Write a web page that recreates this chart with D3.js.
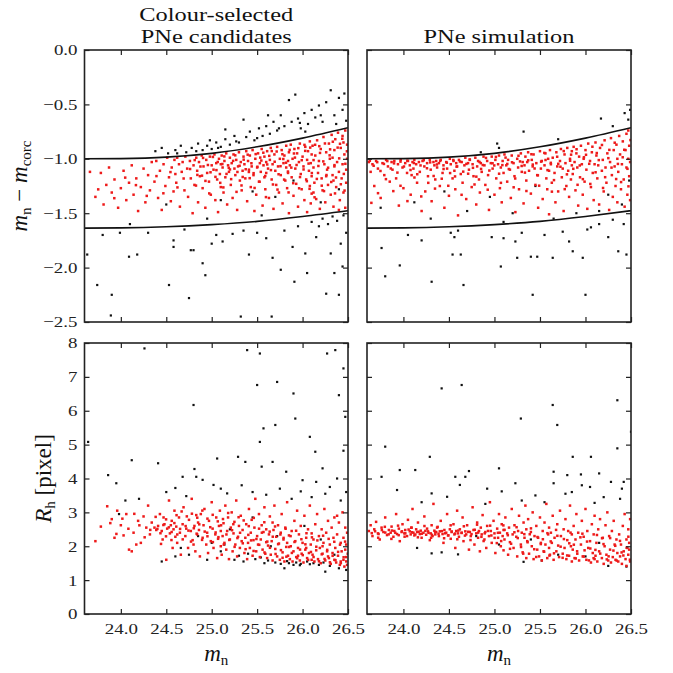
<!DOCTYPE html>
<html lang="en">
<head>
<meta charset="UTF-8">
<title>PNe candidates vs simulation</title>
<script src="https://cdnjs.cloudflare.com/ajax/libs/d3/7.8.5/d3.min.js"></script>
<style>
  body { margin: 0; background: #fff; }
  svg { display: block; font-family: 'Liberation Serif', serif; }
  .tick text { font-family: 'Liberation Serif', serif; font-size: 15.5px; fill: #222; }
  .title { font-size: 19.5px; fill: #111; }
  .math { font-family: 'Liberation Serif', serif; font-size: 23px; fill: #111; }
</style>
</head>
<body>
<svg id="chart" width="673" height="673"></svg>
<script>
// colour-cut curves (m_n vs m_n - m_corc)
const curveMn = [23.6, 24.0, 24.5, 25.0, 25.5, 26.0, 26.5];
const curveUpper = [-1.0, -0.998, -0.985, -0.95, -0.89, -0.81, -0.715];
const curveLower = [-1.637, -1.635, -1.625, -1.605, -1.575, -1.53, -1.477];

const xTicks = [24.0, 24.5, 25.0, 25.5, 26.0, 26.5];
const dmTicks = [0.0, -0.5, -1.0, -1.5, -2.0, -2.5];
const rhTicks = [0, 1, 2, 3, 4, 5, 6, 7, 8];

const panelTitles = [["Colour-selected", "PNe candidates"], ["PNe simulation"]];

// candidates: m_n vs colour (selected = red)
const candColourRed = [
  [23.66,-1.12],[23.72,-1.35],[23.78,-1.13],[23.81,-1.42],[23.84,-1.24],
  [23.87,-1.08],[23.90,-1.31],[23.93,-1.19],[23.97,-1.45],[24.00,-1.27],[24.03,-1.11],[24.06,-1.38],[24.09,-1.22],
  [24.12,-1.06],[24.14,-1.33],[24.17,-1.18],[24.19,-1.48],[24.22,-1.26],[24.25,-1.09],[24.27,-1.40],[24.30,-1.15],[24.32,-1.29],[24.34,-1.03],
  [24.37,-1.21],[24.39,-1.02],[24.41,-1.36],[24.43,-1.11],[24.45,-1.47],[24.47,-1.05],[24.49,-1.25],[24.51,-0.99],[24.53,-1.17],[24.55,-1.39],[24.56,-1.08],[24.58,-1.30],[24.59,-1.01],[24.60,-1.14],
  [24.61,-1.22],[24.62,-0.99],[24.64,-1.05],[24.65,-1.44],[24.67,-1.12],[24.68,-1.03],[24.70,-1.29],[24.71,-0.98],[24.73,-1.09],[24.74,-1.35],[24.76,-1.02],[24.77,-1.18],[24.79,-1.50],[24.80,-1.06],[24.81,-1.24],[24.83,-0.99],[24.84,-1.11],[24.85,-1.40],
  [24.86,-1.03],[24.87,-1.16],[24.89,-0.97],[24.90,-1.27],[24.91,-1.07],[24.93,-1.45],[24.94,-1.01],[24.95,-1.13],[24.97,-1.21],[24.98,-0.98],[24.99,-1.33],[25.00,-1.06],[25.02,-1.10],[25.03,-0.96],[25.04,-1.38],[25.05,-1.04],[25.06,-1.19],[25.07,-1.49],[25.08,-1.00],[25.09,-1.14],[25.10,-1.26],[25.10,-1.05],
  [25.11,-0.97],[25.12,-1.08],[25.13,-1.31],[25.14,-1.02],[25.15,-1.17],[25.16,-0.95],[25.17,-1.42],[25.18,-1.06],[25.19,-1.12],[25.20,-0.99],[25.21,-1.24],[25.22,-1.04],[25.23,-1.36],[25.24,-0.96],[25.25,-1.09],[25.26,-1.15],[25.27,-1.01],[25.28,-1.47],[25.29,-1.07],[25.30,-0.94],[25.31,-1.20],[25.32,-1.03],[25.33,-1.29],[25.34,-1.11],[25.35,-0.98],
  [25.36,-1.05],[25.37,-1.18],[25.38,-0.93],[25.39,-1.39],[25.40,-1.02],[25.41,-1.10],[25.42,-0.97],[25.43,-1.26],[25.44,-1.07],[25.45,-0.92],[25.46,-1.15],[25.47,-1.48],[25.48,-1.00],[25.49,-1.33],[25.50,-1.08],[25.51,-0.95],[25.52,-1.21],[25.53,-1.04],[25.54,-1.12],[25.55,-0.91],[25.56,-1.43],[25.57,-1.06],[25.58,-1.17],[25.58,-0.98],[25.59,-1.28],[25.60,-1.03],[25.60,-1.13],
  [25.61,-0.93],[25.62,-1.09],[25.63,-1.36],[25.64,-1.01],[25.65,-0.90],[25.66,-1.19],[25.67,-1.05],[25.68,-1.46],[25.69,-0.96],[25.70,-1.11],[25.71,-1.24],[25.72,-0.89],[25.73,-1.07],[25.74,-1.31],[25.75,-1.00],[25.76,-1.15],[25.77,-0.92],[25.78,-1.41],[25.79,-1.04],[25.80,-0.97],[25.81,-1.20],[25.82,-1.08],[25.82,-0.88],[25.83,-1.27],[25.84,-1.02],[25.84,-1.13],[25.85,-0.94],[25.85,-1.50],
  [25.86,-1.06],[25.87,-0.87],[25.88,-1.17],[25.89,-1.00],[25.90,-1.34],[25.91,-0.91],[25.92,-1.09],[25.93,-1.23],[25.94,-0.95],[25.95,-1.44],[25.96,-1.03],[25.97,-0.86],[25.98,-1.14],[25.99,-1.28],[26.00,-0.98],[26.01,-1.07],[26.02,-1.38],[26.03,-0.89],[26.04,-1.19],[26.05,-1.01],[26.05,-1.49],[26.06,-0.93],[26.07,-1.11],[26.08,-1.25],[26.08,-0.84],[26.09,-1.04],[26.10,-1.32],[26.10,-0.96],[26.10,-1.16],[26.09,-1.41],
  [26.11,-0.88],[26.12,-1.08],[26.13,-1.22],[26.14,-0.97],[26.15,-1.37],[26.16,-0.83],[26.17,-1.13],[26.18,-1.02],[26.19,-1.46],[26.20,-0.91],[26.21,-1.18],[26.22,-1.29],[26.23,-0.80],[26.24,-1.05],[26.25,-1.40],[26.26,-0.94],[26.27,-1.10],[26.28,-1.24],[26.29,-0.86],[26.30,-1.00],[26.31,-1.33],[26.32,-0.78],[26.33,-1.15],[26.34,-1.44],[26.35,-0.92],[26.35,-1.07],[26.34,-1.20],[26.33,-0.99],[26.12,-1.31],[26.26,-1.16],
  [26.36,-0.82],[26.37,-1.26],[26.38,-1.03],[26.39,-0.76],[26.40,-1.12],[26.41,-1.38],[26.42,-0.90],[26.43,-1.18],[26.44,-0.79],[26.44,-1.05],[26.45,-1.31],[26.46,-0.96],[26.47,-1.45],[26.47,-0.74],[26.48,-1.10],[26.48,-1.22],[26.49,-0.87],[26.49,-1.00],[26.40,-1.47],[26.45,-0.85],
  [24.813,-1.012],[24.842,-1.148],[24.876,-1.071],[24.905,-0.992],[24.931,-1.203],[24.958,-1.057],[24.987,-1.124],[25.013,-0.983],[25.041,-1.166],[25.066,-1.029],[25.094,-1.221],[25.117,-1.048],[25.139,-0.978],[25.163,-1.139],[25.188,-1.083],[25.214,-1.187],[25.236,-1.019],[25.259,-0.968],[25.283,-1.121],[25.307,-1.064],[25.328,-1.245],[25.352,-1.008],[25.374,-1.096],[25.396,-0.962],[25.418,-1.178],[25.437,-1.041],[25.461,-1.132],[25.484,-0.957],[25.503,-1.073],[25.527,-1.211],[25.546,-1.016],[25.568,-0.944],[25.589,-1.158],[25.611,-1.052],[25.633,-0.973],[25.652,-1.104],[25.674,-1.236],[25.693,-1.027],[25.715,-0.933],[25.736,-1.142],[25.757,-1.068],[25.778,-0.958],[25.797,-1.191],[25.818,-1.036],[25.839,-1.117],[25.858,-0.918],[25.876,-1.081],[25.897,-1.224],[25.916,-0.989],[25.934,-1.057],[25.953,-0.902],[25.972,-1.168],[25.991,-1.013],[26.011,-1.098],[26.029,-0.927],[26.047,-1.206],[26.066,-1.044],[26.084,-0.897],[26.102,-1.131],[26.121,-1.012],[26.138,-0.871],[26.157,-1.185],[26.174,-1.066],[26.192,-0.946],[26.211,-1.247],[26.228,-1.024],[26.246,-0.859],[26.263,-1.149],[26.281,-1.082],[26.298,-0.968],[26.316,-1.213],[26.333,-0.843],[26.351,-1.058],[26.368,-1.172],[26.386,-0.897],[26.403,-0.996],[26.421,-1.234],[26.437,-0.816],[26.454,-1.139],[26.471,-1.046],[26.488,-0.931],[26.462,-1.292],[26.412,-0.862],[26.357,-1.318],[26.303,-0.913],[26.236,-1.297],[26.184,-0.884],[26.132,-1.354],[26.077,-1.276],[26.021,-0.872],[25.962,-1.271],[25.905,-0.951],[25.846,-1.309],[25.788,-1.002],[25.724,-1.283],[25.661,-0.929],[25.597,-1.352],[25.534,-0.989],[25.472,-1.268],[25.409,-1.121],[25.341,-1.167],[25.273,-1.304],[25.201,-1.098],[25.128,-1.263],[25.052,-1.104],[24.973,-1.318],[24.893,-1.155],[24.827,-1.246],[24.762,-1.094],[24.691,-1.181],[24.623,-1.263],[24.546,-1.122],[24.468,-1.317],[24.392,-1.159],[24.285,-1.341],[24.166,-1.242],[24.048,-1.173],[23.928,-1.362],[23.751,-1.281]
];
const candColourBlack = [
  [24.38,-0.93],[24.45,-0.90],[24.52,-0.95],[24.60,-0.92],[24.66,-0.88],[24.72,-0.94],[24.78,-0.90],[24.85,-0.86],[24.90,-0.92],[24.95,-0.88],[25.00,-0.91],[25.05,-0.85],[25.10,-0.89],[25.15,-0.82],[25.20,-0.87],[25.25,-0.79],[25.30,-0.85],[25.35,-0.64],[25.38,-0.80],[25.42,-0.75],[25.47,-0.83],[25.52,-0.72],[25.56,-0.79],[25.60,-0.70],[25.64,-0.77],[25.68,-0.66],[25.72,-0.74],[25.76,-0.60],[25.80,-0.70],[25.85,-0.46],[25.88,-0.66],[25.92,-0.41],[25.95,-0.63],[25.98,-0.72],[26.02,-0.58],[26.06,-0.68],[26.10,-0.55],[26.14,-0.62],[26.18,-0.51],[26.22,-0.66],[26.26,-0.48],[26.31,-0.37],[26.35,-0.60],[26.40,-0.44],[26.44,-0.55],[26.48,-0.65],[26.46,-0.40],[25.62,-0.60],[25.15,-0.73],[24.98,-0.83],
  [24.62,-0.95],[24.83,-0.93],[25.07,-0.90],[25.27,-0.84],[25.50,-0.81],[25.74,-0.72],[25.97,-0.67],[26.20,-0.60],[26.37,-0.68],[26.03,-0.75],
  [23.63,-1.88],[23.74,-2.16],[23.90,-2.25],[23.89,-2.44],[24.09,-1.90],[24.18,-1.88],[23.99,-1.68],[24.58,-1.75],[24.58,-1.81],[24.53,-2.16],[24.77,-1.84],[24.80,-1.84],[24.75,-2.28],[24.90,-1.96],[24.93,-2.07],[25.00,-1.78],[25.12,-1.76],[25.32,-2.45],[25.41,-1.88],[25.23,-1.69],[25.67,-1.91],[25.76,-2.02],[25.89,-1.81],[25.91,-2.13],[26.05,-2.05],[26.03,-1.87],[26.26,-2.24],[26.31,-1.87],[26.35,-2.05],[26.42,-1.78],[26.44,-1.99],[25.66,-2.45],[25.50,-1.68],[25.60,-1.73],[25.80,-1.66],[25.95,-1.62],[26.10,-1.58],[26.18,-1.62],[26.22,-1.55],[26.28,-1.60],[26.33,-1.53],[26.38,-1.57],[26.45,-1.52],[26.48,-1.68],[26.15,-1.72],[25.35,-1.66],[24.30,-1.68],[24.70,-1.65],[23.80,-1.70],[26.40,-2.25],[25.05,-1.70],
  [24.50,-1.42],[25.10,-1.38],[25.45,-1.30],[25.70,-1.35],[25.90,-1.20],[26.20,-1.40],[26.40,-1.28],[24.95,-1.55],[24.10,-1.60],[25.55,-1.52]
];

// simulation: m_n vs colour
const simColourRed = [
  [23.62,-1.03],[23.64,-1.12],[23.66,-1.05],[23.68,-1.25],[23.70,-1.02],[23.72,-1.09],[23.75,-1.36],[23.77,-1.04],[23.79,-1.15],[23.81,-1.01],[23.83,-1.07],[23.85,-1.21],
  [23.87,-1.03],[23.88,-1.10],[23.90,-1.02],[23.92,-1.18],[23.94,-1.05],[23.95,-1.43],[23.97,-1.01],[23.99,-1.08],[24.00,-1.27],[24.02,-1.04],[24.04,-1.13],[24.05,-1.02],[24.07,-1.06],[24.08,-1.33],[24.09,-1.15],[24.10,-1.03],
  [24.11,-1.09],[24.12,-1.01],[24.14,-1.05],[24.15,-1.22],[24.17,-1.03],[24.18,-1.12],[24.20,-1.48],[24.21,-1.02],[24.23,-1.07],[24.24,-1.30],[24.26,-1.04],[24.27,-1.16],[24.29,-1.01],[24.30,-1.10],[24.31,-1.39],[24.33,-1.03],[24.34,-1.06],[24.35,-1.19],
  [24.36,-1.02],[24.37,-1.08],[24.39,-1.04],[24.40,-1.25],[24.41,-1.01],[24.43,-1.13],[24.44,-1.06],[24.45,-1.45],[24.47,-1.03],[24.48,-1.09],[24.50,-1.34],[24.51,-1.00],[24.52,-1.05],[24.54,-1.18],[24.55,-1.02],[24.56,-1.11],[24.57,-1.28],[24.58,-1.04],[24.59,-1.07],[24.60,-1.52],
  [24.61,-1.01],[24.63,-1.14],[24.64,-1.03],[24.65,-1.22],[24.67,-1.06],[24.68,-0.99],[24.69,-1.37],[24.71,-1.04],[24.72,-1.10],[24.73,-1.01],[24.75,-1.26],[24.76,-1.05],[24.77,-1.16],[24.79,-0.99],[24.80,-1.42],[24.81,-1.07],[24.82,-1.02],[24.83,-1.19],[24.84,-1.31],[24.85,-1.04],
  [24.86,-1.12],[24.88,-0.98],[24.89,-1.06],[24.90,-1.24],[24.92,-1.02],[24.93,-1.15],[24.94,-1.47],[24.96,-1.04],[24.97,-0.98],[24.98,-1.09],[25.00,-1.33],[25.01,-1.01],[25.02,-1.18],[25.04,-1.05],[25.05,-0.97],[25.06,-1.27],[25.07,-1.08],[25.08,-1.40],[25.09,-1.02],[25.10,-1.13],
  [25.11,-0.96],[25.13,-1.06],[25.14,-1.21],[25.15,-1.01],[25.17,-1.10],[25.18,-1.36],[25.19,-0.97],[25.21,-1.04],[25.22,-1.16],[25.23,-1.49],[25.25,-1.00],[25.26,-1.08],[25.27,-1.28],[25.29,-0.95],[25.30,-1.12],[25.31,-1.03],[25.32,-1.41],[25.33,-1.06],[25.34,-0.98],[25.35,-1.20],
  [25.36,-1.03],[25.37,-0.94],[25.38,-1.11],[25.40,-1.32],[25.41,-1.01],[25.42,-1.07],[25.43,-0.96],[25.45,-1.24],[25.46,-1.04],[25.47,-1.15],[25.48,-1.45],[25.50,-0.93],[25.51,-1.09],[25.52,-1.02],[25.53,-1.37],[25.55,-1.06],[25.56,-0.95],[25.57,-1.18],[25.58,-1.28],[25.59,-1.00],[25.60,-1.11],[25.60,-1.51],
  [25.61,-0.92],[25.62,-1.05],[25.63,-1.22],[25.64,-0.99],[25.66,-1.13],[25.67,-1.40],[25.68,-0.94],[25.69,-1.07],[25.70,-1.30],[25.72,-1.02],[25.73,-0.91],[25.74,-1.17],[25.75,-1.09],[25.76,-1.48],[25.77,-0.96],[25.78,-1.04],[25.79,-1.25],[25.80,-0.90],[25.81,-1.11],[25.82,-1.35],[25.83,-1.00],[25.84,-1.19],[25.85,-0.93],[25.85,-1.06],
  [25.86,-1.14],[25.87,-0.89],[25.88,-1.03],[25.89,-1.29],[25.90,-0.95],[25.91,-1.08],[25.92,-1.43],[25.93,-0.98],[25.94,-1.17],[25.95,-0.88],[25.96,-1.05],[25.97,-1.33],[25.98,-1.00],[25.99,-1.21],[26.00,-0.92],[26.01,-1.10],[26.02,-1.46],[26.03,-0.86],[26.05,-1.02],[26.06,-1.26],[26.07,-0.94],[26.08,-1.13],[26.09,-1.38],[26.10,-1.05],
  [26.11,-0.85],[26.12,-0.97],[26.13,-1.18],[26.14,-1.06],[26.15,-1.42],[26.16,-0.90],[26.18,-1.11],[26.19,-1.01],[26.20,-1.30],[26.21,-0.83],[26.22,-1.08],[26.23,-1.22],[26.24,-0.95],[26.26,-1.47],[26.27,-1.03],[26.28,-0.81],[26.29,-1.15],[26.30,-1.35],[26.31,-0.92],[26.32,-1.07],[26.33,-1.25],[26.34,-0.87],[26.35,-1.00],[26.35,-1.40],
  [26.36,-1.12],[26.37,-0.79],[26.38,-0.96],[26.39,-1.28],[26.40,-1.05],[26.41,-0.84],[26.42,-1.19],[26.43,-1.44],[26.44,-0.92],[26.45,-1.08],[26.45,-0.77],[26.46,-1.33],[26.47,-1.00],[26.48,-1.16],[26.48,-0.88],[26.49,-1.38],[26.49,-1.03],[26.47,-0.74],
  [23.631,-1.018],[23.673,-1.064],[23.712,-1.031],[23.748,-1.112],[23.786,-1.047],[23.823,-1.021],[23.861,-1.089],[23.897,-1.042],[23.934,-1.127],[23.968,-1.026],[24.006,-1.071],[24.043,-1.018],[24.078,-1.103],[24.115,-1.039],[24.152,-1.142],[24.188,-1.061],[24.223,-1.013],[24.259,-1.087],[24.294,-1.033],[24.332,-1.158],[24.368,-1.052],[24.404,-1.019],[24.441,-1.094],[24.477,-1.036],[24.513,-1.131],[24.548,-1.011],[24.584,-1.072],[24.621,-1.025],[24.657,-1.118],[24.692,-1.047],[24.728,-1.006],[24.764,-1.083],[24.801,-1.164],[24.836,-1.029],[24.872,-1.057],[24.907,-0.992],[24.944,-1.108],[24.979,-1.041],[25.016,-0.983],[25.051,-1.137],[25.087,-1.058],[25.122,-0.989],[25.158,-1.094],[25.193,-1.032],[25.228,-1.181],[25.264,-0.972],[25.299,-1.066],[25.335,-1.127],[25.371,-1.014],[25.406,-0.958],[25.441,-1.089],[25.477,-1.152],[25.513,-1.026],[25.548,-0.946],[25.583,-1.104],[25.619,-1.037],[25.654,-1.196],[25.689,-0.981],[25.725,-1.073],[25.761,-0.929],[25.796,-1.143],[25.831,-1.018],[25.866,-1.092],[25.902,-0.912],[25.937,-1.061],[25.971,-1.187],[26.006,-0.963],[26.041,-1.046],[26.076,-0.889],[26.111,-1.124],[26.146,-1.012],[26.181,-0.873],[26.216,-1.169],[26.251,-0.994],[26.286,-1.081],[26.321,-0.852],[26.356,-1.047],[26.391,-1.214],[26.426,-0.917],[26.461,-1.092],[26.494,-0.828],[26.472,-1.253],[26.409,-0.986],[26.337,-1.186],[26.262,-0.918],[26.193,-1.268],[26.124,-0.947],[26.053,-1.231],[25.983,-0.986],[25.913,-1.239],[25.842,-0.962],[25.772,-1.279],[25.701,-1.046],[25.631,-1.302],[25.561,-1.011],[25.491,-1.247],[25.421,-1.053],[25.351,-1.296],[25.281,-1.024],[25.211,-1.262],[25.141,-1.047],[25.071,-1.221],[24.998,-1.061],[24.926,-1.284],[24.853,-1.093],[24.781,-1.236],[24.711,-1.137],[24.639,-1.331],[24.567,-1.162],[24.493,-1.248],[24.421,-1.183],[24.347,-1.274],[24.273,-1.221],[24.196,-1.346],[24.121,-1.172],[24.044,-1.389],[23.968,-1.248],[23.889,-1.297],[23.808,-1.187],[23.721,-1.316],[23.648,-1.405]
];
const simColourBlack = [
  [23.76,-1.82],[23.80,-2.08],[23.96,-1.98],[24.20,-1.75],[24.31,-2.13],[24.52,-1.68],[24.54,-1.88],[24.63,-1.88],[24.66,-2.16],[24.97,-1.72],[25.07,-1.99],[25.23,-1.76],[25.25,-1.91],[25.40,-1.90],[25.42,-2.25],[25.47,-1.90],[25.64,-1.91],[25.82,-1.76],[25.86,-1.85],[25.97,-1.91],[26.00,-2.25],[26.02,-1.65],[26.06,-1.63],[26.25,-1.72],[26.36,-1.85],[24.56,-1.72],[24.60,-1.66],[25.30,-1.68],[25.10,-1.73],[24.05,-1.70],[26.15,-1.60],[26.30,-1.56],[26.42,-1.60],[25.75,-1.67],[25.55,-1.70],[26.45,-1.88],
  [25.03,-0.86],[25.32,-0.75],[26.17,-0.63],[26.43,-0.58],[26.47,-0.64],[26.49,-0.55],[25.05,-0.90],[24.85,-0.94],[25.70,-0.82],[26.30,-0.70],
  [23.75,-1.45],[24.12,-1.40],[24.30,-1.55],[24.70,-1.48],[24.95,-1.35],[25.20,-1.50],[25.45,-1.25],[25.65,-1.55],[25.90,-1.50],[26.15,-1.48],[26.40,-1.42],[25.10,-1.58],[24.45,-1.30],[26.25,-1.33],[26.48,-1.20]
];

// candidates: m_n vs half-light radius
const candSizeRed = [
  [23.72,2.15],[23.78,2.58],[23.85,3.18],[23.90,2.80],[23.93,2.25],[23.96,3.05],[24.00,2.62],[24.03,2.32],[24.06,2.95],[24.09,1.90],
  [24.12,1.85],[24.14,2.40],[24.17,2.05],[24.19,2.75],[24.22,2.10],[24.25,2.88],[24.28,2.55],[24.30,3.20],[24.32,2.35],[24.34,2.70],
  [24.37,2.55],[24.39,2.48],[24.41,2.60],[24.43,2.95],[24.45,2.45],[24.46,2.20],[24.48,2.65],[24.50,1.60],[24.51,2.52],[24.53,3.35],[24.54,2.38],[24.56,2.75],[24.57,1.95],[24.58,2.50],[24.59,3.05],[24.60,2.28],[24.55,2.62],[24.47,2.85],
  [24.61,2.58],[24.62,2.10],[24.64,2.85],[24.65,2.40],[24.66,1.75],[24.68,2.65],[24.69,3.15],[24.71,2.30],[24.72,2.52],[24.74,1.95],[24.75,2.78],[24.77,2.45],[24.78,3.40],[24.79,2.18],[24.81,2.60],[24.82,1.85],[24.83,2.92],[24.84,2.35],[24.85,2.70],[24.80,2.05],
  [24.86,2.48],[24.87,1.70],[24.88,2.95],[24.90,2.25],[24.91,2.62],[24.92,3.10],[24.94,2.05],[24.95,2.40],[24.96,1.80],[24.97,2.75],[24.99,2.15],[25.00,3.30],[25.01,2.52],[25.02,1.95],[25.04,2.35],[25.05,2.85],[25.06,1.65],[25.07,2.22],[25.08,2.60],[25.09,3.05],[25.10,2.00],[25.10,2.45],
  [25.11,1.75],[25.12,2.30],[25.13,2.68],[25.14,2.10],[25.15,3.20],[25.16,1.90],[25.17,2.45],[25.18,2.85],[25.19,1.62],[25.20,2.20],[25.21,2.55],[25.22,3.00],[25.23,1.85],[25.24,2.38],[25.25,2.72],[25.26,2.05],[25.27,3.35],[25.28,1.70],[25.29,2.28],[25.30,2.60],[25.31,1.95],[25.32,2.90],[25.33,2.15],[25.34,2.48],
  [25.36,1.80],[25.37,2.25],[25.38,2.65],[25.39,1.62],[25.40,2.10],[25.41,3.10],[25.42,1.95],[25.43,2.40],[25.44,2.78],[25.45,1.72],[25.46,2.18],[25.47,2.55],[25.48,3.40],[25.49,1.85],[25.50,2.30],[25.51,2.05],[25.52,2.95],[25.53,1.68],[25.54,2.20],[25.55,2.62],[25.56,1.90],[25.57,2.42],[25.58,3.15],[25.59,1.78],[25.60,2.12],[25.60,2.50],
  [25.61,1.65],[25.62,2.02],[25.63,2.35],[25.64,2.88],[25.65,1.75],[25.66,2.15],[25.67,1.58],[25.68,2.48],[25.69,3.20],[25.70,1.92],[25.71,2.28],[25.72,1.70],[25.73,2.62],[25.74,2.08],[25.75,1.60],[25.76,2.40],[25.77,2.95],[25.78,1.82],[25.79,2.20],[25.80,1.55],[25.81,2.55],[25.82,1.98],[25.83,3.30],[25.84,1.72],[25.85,2.32],[25.83,2.10],[25.78,1.66],[25.67,2.70],
  [25.86,1.62],[25.87,2.00],[25.88,2.45],[25.89,1.55],[25.90,1.85],[25.91,2.75],[25.92,2.15],[25.93,1.68],[25.94,3.05],[25.95,1.95],[25.96,2.35],[25.97,1.58],[25.98,2.60],[25.99,1.78],[26.00,2.10],[26.01,1.52],[26.02,2.90],[26.03,1.90],[26.04,2.25],[26.05,1.65],[26.06,2.50],[26.07,1.80],[26.08,3.20],[26.09,2.05],[26.10,1.60],[26.10,2.38],[25.95,1.72],[26.04,1.95],
  [26.11,1.75],[26.12,2.20],[26.13,1.55],[26.14,2.65],[26.15,1.88],[26.16,2.95],[26.17,1.62],[26.18,2.30],[26.19,1.95],[26.20,1.50],[26.21,2.50],[26.22,1.78],[26.23,2.10],[26.24,3.10],[26.25,1.58],[26.26,2.40],[26.27,1.85],[26.28,2.75],[26.29,1.65],[26.30,2.05],[26.31,1.48],[26.32,2.55],[26.33,1.80],[26.34,2.25],[26.35,1.60],[26.35,2.85],[26.22,2.00],[26.28,1.70],
  [26.36,1.95],[26.37,1.52],[26.38,2.35],[26.39,1.72],[26.40,2.70],[26.41,1.45],[26.42,2.10],[26.43,1.85],[26.44,3.00],[26.45,1.60],[26.45,2.25],[26.46,1.40],[26.47,1.90],[26.47,2.55],[26.48,1.68],[26.48,2.05],[26.49,1.45],[26.49,2.40],[26.42,1.55],[26.38,2.90],
  [24.402,2.512],[24.436,2.384],[24.468,2.627],[24.497,2.293],[24.528,2.558],[24.559,2.421],[24.589,2.684],[24.621,2.347],[24.652,2.512],[24.681,2.203],[24.713,2.596],[24.744,2.462],[24.772,2.138],[24.803,2.531],[24.834,2.372],[24.863,2.647],[24.894,2.188],[24.923,2.433],[24.953,2.294],[24.984,2.562],[25.013,2.122],[25.043,2.407],[25.074,2.269],[25.103,2.618],[25.133,2.051],[25.162,2.348],[25.193,2.186],[25.224,2.473],[25.252,1.982],[25.283,2.241],[25.312,2.398],[25.342,2.087],[25.373,1.913],[25.403,2.336],[25.433,2.173],[25.461,1.861],[25.492,2.214],[25.523,2.042],[25.552,2.401],[25.581,1.817],[25.612,2.138],[25.641,1.954],[25.672,2.282],[25.703,1.772],[25.731,2.061],[25.762,1.886],[25.791,2.247],[25.822,1.692],[25.851,1.978],[25.882,1.803],[25.911,2.126],[25.941,1.647],[25.972,1.902],[26.002,1.738],[26.031,2.057],[26.061,1.598],[26.092,1.832],[26.121,1.682],[26.151,1.986],[26.181,1.556],[26.211,1.762],[26.242,1.624],[26.271,1.893],[26.301,1.527],[26.331,1.718],[26.362,1.589],[26.391,1.834],[26.421,1.502],[26.452,1.676],[26.481,1.552],[26.497,1.781],[26.468,2.137],[26.412,2.046],[26.349,2.132],[26.287,2.218],[26.226,2.311],[26.163,2.172],[26.103,2.263],[26.043,2.384],[25.987,2.207],[25.929,2.458],[25.868,2.299],[25.813,2.516],[25.756,2.347],[25.697,2.584],[25.638,2.431],[25.579,2.708],[25.521,2.519],[25.463,2.837],[25.408,2.594],[25.352,2.762],[25.296,2.857],[25.238,2.651],[25.181,2.982],[25.124,2.803],[25.067,2.734],[25.011,2.928],[24.953,2.815],[24.897,3.053],[24.841,2.843],[24.782,2.961],[24.726,2.882],[24.669,3.027],[24.613,2.917],[24.557,2.183],[24.498,2.794],[24.442,2.069],[24.383,2.867],[24.324,2.483],[24.262,2.264],[24.204,2.618],[24.148,2.957],[24.083,2.517],[24.017,2.814],[23.951,2.364],[23.884,2.683]
];
const candSizeBlack = [
  [24.26,7.84],[25.39,7.79],[25.53,7.69],[26.36,7.79],[26.27,7.69],[26.45,7.25],[25.50,6.76],[25.72,6.85],[24.80,6.17],[25.90,6.51],[25.92,5.77],[26.40,6.46],[26.47,5.82],[23.64,5.08],[25.57,5.48],[25.53,5.08],[25.70,5.58],[26.08,5.23],[26.14,4.79],[26.45,4.82],
  [24.12,4.54],[24.41,4.45],[25.06,4.59],[25.29,4.64],[25.37,4.49],[25.55,4.35],[25.67,4.49],[25.82,4.20],[26.22,4.30],[23.86,4.10],[23.95,3.86],[24.81,4.28],[24.83,4.05],[24.90,3.96],[25.02,3.81],[25.17,3.56],[25.33,3.80],[25.75,3.70],[26.00,3.95],[26.15,3.90],[26.30,3.75],[26.38,4.00],[26.48,3.60],
  [24.50,3.60],[24.60,3.72],[24.68,4.05],[24.72,3.48],[25.10,3.70],[25.45,3.60],[25.60,3.52],[25.88,3.40],[25.98,3.62],[26.10,3.45],[26.25,3.55],[26.42,3.35],[24.05,3.35],[24.20,3.40],[23.98,2.95],
  [24.45,1.55],[24.60,1.70],[24.75,1.75],[24.95,1.60],[25.10,1.85],[25.25,1.60],[25.35,1.55],[25.48,1.62],[25.58,1.50],[25.62,1.58],[25.70,1.52],[25.85,1.50],[25.90,1.45],[25.93,1.52],[25.98,1.48],[26.05,1.55],[26.12,1.50],[26.18,1.45],[26.30,1.42],[26.40,1.35],[26.48,1.30],[25.40,1.78],[25.00,2.10],[24.85,2.30],[25.20,2.50],[25.65,2.00],[26.20,2.20],[25.80,1.35],[26.25,1.25],
  [25.76,1.48],[25.83,1.56],[25.97,1.44],[26.08,1.47],[26.23,1.52],[25.54,1.67],[25.30,1.72],[24.66,1.95],[25.14,2.05],[25.72,2.30],[26.35,1.75],[26.02,2.60],[25.45,2.85]
];

// simulation: m_n vs half-light radius
const simSizeRed = [
  [23.62,2.45],[23.64,2.62],[23.66,2.30],[23.68,2.50],[23.70,2.72],[23.72,2.38],[23.74,2.20],[23.76,2.55],[23.78,2.42],[23.80,2.85],[23.82,2.33],[23.84,2.48],
  [23.86,2.40],[23.87,2.58],[23.89,2.28],[23.90,2.45],[23.92,2.95],[23.93,2.36],[23.95,2.52],[23.96,2.15],[23.98,2.42],[23.99,2.65],[24.01,2.38],[24.02,2.48],[24.04,2.30],[24.05,2.78],[24.07,2.44],[24.08,2.35],[24.09,2.55],[24.10,3.10],
  [24.11,2.40],[24.12,2.32],[24.14,2.50],[24.15,2.42],[24.16,2.70],[24.18,2.36],[24.19,2.46],[24.20,2.25],[24.22,2.40],[24.23,2.88],[24.25,2.34],[24.26,2.52],[24.27,2.44],[24.29,2.18],[24.30,2.38],[24.31,2.62],[24.32,2.30],[24.33,3.25],[24.34,2.46],[24.35,2.35],
  [24.36,2.42],[24.37,2.55],[24.39,2.30],[24.40,2.44],[24.41,2.75],[24.43,2.36],[24.44,2.10],[24.45,2.48],[24.47,2.40],[24.48,2.95],[24.49,2.32],[24.51,2.50],[24.52,2.22],[24.53,2.42],[24.55,2.65],[24.56,2.35],[24.57,1.95],[24.58,2.45],[24.59,3.05],[24.60,2.38],
  [24.61,2.28],[24.62,2.50],[24.64,2.40],[24.65,2.85],[24.66,2.15],[24.68,2.44],[24.69,2.35],[24.70,2.62],[24.72,1.90],[24.73,2.42],[24.74,2.30],[24.76,3.15],[24.77,2.48],[24.78,2.05],[24.80,2.38],[24.81,2.70],[24.82,2.25],[24.83,2.45],[24.84,1.85],[24.85,2.55],
  [24.86,2.35],[24.87,2.92],[24.89,2.20],[24.90,2.42],[24.91,1.95],[24.92,2.60],[24.94,2.30],[24.95,3.30],[24.96,2.45],[24.97,2.10],[24.99,2.75],[25.00,2.38],[25.01,1.80],[25.03,2.52],[25.04,2.25],[25.05,2.95],[25.06,2.40],[25.07,2.00],[25.08,2.65],[25.09,2.30],[25.10,1.88],[25.10,2.48],
  [25.11,2.20],[25.12,2.85],[25.14,2.38],[25.15,1.75],[25.16,2.55],[25.17,2.12],[25.19,3.10],[25.20,2.35],[25.21,1.95],[25.22,2.62],[25.24,2.28],[25.25,1.70],[25.26,2.45],[25.27,2.90],[25.29,2.05],[25.30,2.40],[25.31,1.82],[25.32,2.70],[25.33,2.25],[25.34,3.20],[25.35,1.65],[25.35,2.50],
  [25.36,2.15],[25.37,2.80],[25.38,1.78],[25.40,2.42],[25.41,2.00],[25.42,3.00],[25.43,1.62],[25.44,2.30],[25.46,2.60],[25.47,1.90],[25.48,2.25],[25.49,1.70],[25.50,2.85],[25.51,2.10],[25.52,1.58],[25.53,2.45],[25.54,1.85],[25.55,2.70],[25.56,2.05],[25.57,3.25],[25.58,1.65],[25.59,2.35],[25.60,1.95],[25.60,2.55],
  [25.61,1.75],[25.62,2.40],[25.63,2.10],[25.64,2.90],[25.65,1.60],[25.66,2.25],[25.68,1.85],[25.69,2.65],[25.70,2.02],[25.71,1.68],[25.72,3.05],[25.73,2.30],[25.75,1.78],[25.76,2.50],[25.77,1.95],[25.78,2.80],[25.79,1.62],[25.80,2.18],[25.81,2.45],[25.82,1.72],[25.83,3.20],[25.84,2.00],[25.85,1.55],[25.85,2.35],
  [25.86,1.90],[25.87,2.60],[25.88,1.65],[25.89,2.20],[25.90,2.95],[25.91,1.78],[25.92,2.40],[25.93,1.58],[25.95,2.05],[25.96,2.75],[25.97,1.70],[25.98,2.28],[25.99,1.88],[26.00,3.10],[26.01,1.60],[26.02,2.45],[26.03,1.95],[26.05,2.15],[26.06,1.52],[26.07,2.65],[26.08,1.80],[26.09,2.35],[26.10,1.62],[26.10,2.90],
  [26.11,1.72],[26.12,2.10],[26.13,1.55],[26.14,2.50],[26.15,1.85],[26.16,2.80],[26.18,1.65],[26.19,2.25],[26.20,1.48],[26.21,2.00],[26.22,2.62],[26.23,1.75],[26.24,3.00],[26.25,1.58],[26.26,2.30],[26.27,1.90],[26.28,1.52],[26.29,2.45],[26.30,1.68],[26.31,2.75],[26.32,2.05],[26.33,1.60],[26.34,2.20],[26.35,1.80],
  [26.36,1.55],[26.37,2.35],[26.38,1.70],[26.39,2.05],[26.40,1.48],[26.41,2.60],[26.42,1.85],[26.43,2.95],[26.44,1.62],[26.45,2.20],[26.45,1.42],[26.46,1.95],[26.47,2.50],[26.47,1.75],[26.48,2.10],[26.49,1.55],[26.49,2.80],[26.48,1.90],
  [23.652,2.387],[23.689,2.442],[23.727,2.361],[23.763,2.478],[23.801,2.405],[23.838,2.352],[23.874,2.463],[23.911,2.398],[23.948,2.327],[23.984,2.441],[24.021,2.382],[24.057,2.493],[24.094,2.413],[24.131,2.347],[24.167,2.428],[24.203,2.371],[24.241,2.454],[24.276,2.396],[24.313,2.338],[24.349,2.418],[24.386,2.369],[24.422,2.447],[24.458,2.382],[24.494,2.321],[24.531,2.436],[24.567,2.375],[24.603,2.462],[24.639,2.392],[24.676,2.314],[24.712,2.427],[24.748,2.358],[24.784,2.486],[24.821,2.402],[24.857,2.278],[24.893,2.381],[24.929,2.452],[24.966,2.318],[25.002,2.247],[25.038,2.397],[25.074,2.153],[25.111,2.483],[25.147,2.326],[25.183,2.074],[25.219,2.412],[25.256,2.241],[25.292,1.978],[25.328,2.357],[25.364,2.118],[25.401,2.528],[25.437,1.912],[25.473,2.272],[25.509,2.064],[25.546,1.838],[25.582,2.386],[25.618,2.143],[25.654,1.791],[25.691,2.308],[25.727,1.987],[25.763,2.212],[25.799,1.728],[25.836,2.402],[25.872,2.046],[25.908,1.852],[25.944,2.263],[25.981,1.697],[26.017,2.138],[26.053,1.934],[26.089,1.648],[26.126,2.332],[26.162,1.783],[26.198,2.064],[26.234,1.612],[26.271,2.241],[26.307,1.872],[26.343,1.576],[26.379,2.158],[26.416,1.728],[26.452,1.957],[26.488,1.603],[26.471,2.282],[26.397,1.818],[26.327,2.013],[26.254,1.702],[26.182,2.236],[26.109,1.893],[26.038,1.582],[25.966,2.371],[25.893,1.641],[25.822,2.087],[25.749,1.658],[25.677,2.483],[25.604,1.724],[25.532,2.207],[25.459,1.683],[25.388,2.354],[25.316,1.782],[25.243,2.562],[25.171,1.924],[25.098,2.616],[25.026,2.093],[24.953,2.608],[24.881,2.154],[24.809,2.637],[24.737,2.183],[24.664,2.589],[24.592,2.206],[24.519,2.618],[24.447,2.236],[24.376,2.572],[24.304,2.251],[24.231,2.597],[24.159,2.264],[24.086,2.548],[24.013,2.282],[23.941,2.608],[23.868,2.217],[23.796,2.574],[23.723,2.252]
];
const simSizeBlack = [
  [24.42,6.66],[24.64,6.76],[25.64,6.17],[25.69,5.58],[25.29,5.77],[26.35,6.31],[26.50,5.38],[26.35,4.89],[23.80,4.94],[24.29,4.64],[23.96,4.25],[24.13,4.25],[25.05,4.30],[25.86,4.64],[26.06,4.64],[25.65,4.20],[25.80,4.10],[26.15,4.15],[25.95,4.12],[23.76,4.05],[24.57,4.05],[24.62,3.81],[24.68,4.05],[24.72,4.22],
  [25.23,3.86],[25.65,3.86],[25.96,3.80],[26.05,3.75],[26.28,3.90],[26.42,3.90],[26.40,3.70],[23.93,3.66],[24.31,3.56],[24.48,3.46],[24.92,3.70],[25.08,3.62],[25.45,3.50],[25.78,3.55],[25.85,3.60],[26.20,3.45],[26.38,3.40],[24.20,3.30],[24.90,3.25],[25.30,3.35],[25.55,3.30],[26.10,3.28],
  [24.31,1.79],[24.42,1.82],[24.60,1.76],[25.32,1.54],[25.52,1.58],[26.25,1.42],[26.45,1.40],[24.15,1.95],[25.05,2.05],[25.70,1.75],[26.00,1.70],[26.15,2.10],[24.80,2.30],[25.40,2.20]
];

const svg = d3.select("#chart");
const cols = [[84.5, 348], [367, 631]];
const rows = [[50, 322], [343, 614]];
const xDomain = [23.6, 26.5];
const red = "#ee1a1a";

const panels = [
  {col: 0, row: 0, yDomain: [-2.5, 0], yTicks: dmTicks, red: candColourRed, black: candColourBlack, curves: true},
  {col: 1, row: 0, yDomain: [-2.5, 0], yTicks: dmTicks, red: simColourRed, black: simColourBlack, curves: true},
  {col: 0, row: 1, yDomain: [0, 8], yTicks: rhTicks, red: candSizeRed, black: candSizeBlack, curves: false},
  {col: 1, row: 1, yDomain: [0, 8], yTicks: rhTicks, red: simSizeRed, black: simSizeBlack, curves: false}
];

panels.forEach((p, i) => {
  const [x0, x1] = cols[p.col];
  const [y0, y1] = rows[p.row];
  const x = d3.scaleLinear().domain(xDomain).range([x0, x1]);
  const y = d3.scaleLinear().domain(p.yDomain).range([y1, y0]);
  const fmt = p.row === 0 ? d3.format(".1f") : d3.format("d");

  svg.append("clipPath").attr("id", "clip" + i)
    .append("rect").attr("x", x0).attr("y", y0).attr("width", x1 - x0).attr("height", y1 - y0);

  const g = svg.append("g").attr("clip-path", `url(#clip${i})`);

  g.selectAll("rect.blk").data(p.black).enter().append("rect")
    .attr("class", "blk")
    .attr("x", d => x(d[0]) - 1.1).attr("y", d => y(d[1]) - 1.1)
    .attr("width", 2.2).attr("height", 2.2)
    .attr("fill", "#111");

  g.selectAll("rect.red").data(p.red).enter().append("rect")
    .attr("class", "red")
    .attr("x", d => x(d[0]) - 1.25).attr("y", d => y(d[1]) - 1.25)
    .attr("width", 2.5).attr("height", 2.5)
    .attr("fill", red);

  if (p.curves) {
    const line = d3.line().x(d => x(d[0])).y(d => y(d[1])).curve(d3.curveMonotoneX);
    [curveUpper, curveLower].forEach(c => {
      g.append("path")
        .datum(curveMn.map((m, k) => [m, c[k]]))
        .attr("d", line)
        .attr("fill", "none")
        .attr("stroke", "#111")
        .attr("stroke-width", 1.6);
    });
  }

  // inward ticks on all four sides
  const bottom = d3.axisBottom(x).tickValues(xTicks).tickSizeInner(-5).tickSizeOuter(0).tickPadding(9)
    .tickFormat(p.row === 1 ? d3.format(".1f") : "");
  const top = d3.axisTop(x).tickValues(xTicks).tickSizeInner(-5).tickSizeOuter(0).tickFormat("");
  const left = d3.axisLeft(y).tickValues(p.yTicks).tickSizeInner(-5).tickSizeOuter(0).tickPadding(7)
    .tickFormat(p.col === 0 ? fmt : "");
  const right = d3.axisRight(y).tickValues(p.yTicks).tickSizeInner(-5).tickSizeOuter(0).tickFormat("");

  [[bottom, `translate(0,${y1})`], [top, `translate(0,${y0})`],
   [left, `translate(${x0},0)`], [right, `translate(${x1},0)`]].forEach(([ax, tr]) => {
    const a = svg.append("g").attr("transform", tr).call(ax);
    a.select(".domain").remove();
    a.selectAll(".tick line").attr("stroke", "#222").attr("stroke-width", 1.2);
  });

  svg.append("rect")
    .attr("x", x0).attr("y", y0).attr("width", x1 - x0).attr("height", y1 - y0)
    .attr("fill", "none").attr("stroke", "#222").attr("stroke-width", 1.6);
});

// panel titles
panelTitles.forEach((lines, c) => {
  const cx = (cols[c][0] + cols[c][1]) / 2;
  lines.forEach((t, k) => {
    svg.append("text").attr("class", "title")
      .attr("x", cx).attr("y", 43 - (lines.length - 1 - k) * 22.5)
      .attr("text-anchor", "middle").text(t);
  });
});

// x axis titles: m_n
cols.forEach(c => {
  const t = svg.append("text").attr("class", "math")
    .attr("x", (c[0] + c[1]) / 2).attr("y", 661).attr("text-anchor", "middle");
  t.append("tspan").attr("font-style", "italic").text("m");
  t.append("tspan").attr("font-size", "15px").attr("dy", 4).text("n");
});

// y axis title, top: m_n - m_corc
{
  const t = svg.append("text").attr("class", "math")
    .attr("transform", `translate(27,${(rows[0][0] + rows[0][1]) / 2}) rotate(-90)`)
    .attr("text-anchor", "middle");
  t.append("tspan").attr("font-style", "italic").text("m");
  t.append("tspan").attr("font-size", "15px").attr("dy", 4).text("n");
  t.append("tspan").attr("dy", -4).text(" \u2212 ");
  t.append("tspan").attr("font-style", "italic").text("m");
  t.append("tspan").attr("font-size", "15px").attr("dy", 4).text("corc");
}

// y axis title, bottom: R_h [pixel]
{
  const t = svg.append("text").attr("class", "math")
    .attr("transform", `translate(51,${(rows[1][0] + rows[1][1]) / 2}) rotate(-90)`)
    .attr("text-anchor", "middle");
  t.append("tspan").attr("font-style", "italic").text("R");
  t.append("tspan").attr("font-size", "15px").attr("dy", 4).text("h");
  t.append("tspan").attr("dy", -4).text(" [pixel]");
}

// the reference face is wider than Liberation Serif: widen labels to match
svg.selectAll(".tick text, .title").each(function () {
  const w = this.getComputedTextLength();
  if (w > 0) {
    const f = this.classList.contains("title") ? 1.25 : 1.22;
    d3.select(this).attr("textLength", w * f).attr("lengthAdjust", "spacingAndGlyphs");
  }
});
</script>
</body>
</html>
